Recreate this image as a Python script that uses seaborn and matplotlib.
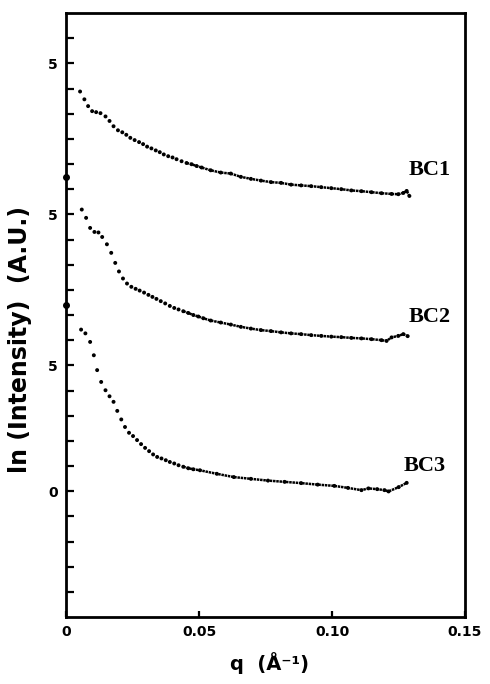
import numpy as np
import pandas as pd
import matplotlib
matplotlib.use("Agg")
import matplotlib.pyplot as plt
import seaborn as sns

# ---- data (q in 1/Angstrom, stacked ln intensity) ----
bc1_q = [0.00529, 0.00691, 0.00831, 0.00982, 0.01133, 0.01296, 0.01485, 0.01636, 0.01787,
         0.01953, 0.02116, 0.02267, 0.02418, 0.0258, 0.02747, 0.02898, 0.03049, 0.03211,
         0.03374, 0.03525, 0.03676, 0.03842, 0.04005, 0.04156, 0.04345, 0.04533, 0.04722,
         0.04911, 0.051, 0.0544, 0.05818, 0.06196, 0.06573, 0.06951, 0.07329, 0.07707,
         0.08085, 0.08462, 0.0884, 0.09218, 0.09596, 0.09974, 0.10351, 0.10729, 0.11107,
         0.11485, 0.11862, 0.1224, 0.12493, 0.12682, 0.12807, 0.12909]
bc1_y = [15.88, 15.57, 15.30, 15.10, 15.06, 15.02, 14.89, 14.71, 14.50,
         14.34, 14.26, 14.16, 14.04, 13.95, 13.87, 13.79, 13.69, 13.62,
         13.54, 13.47, 13.38, 13.31, 13.26, 13.19, 13.11, 13.04, 12.99,
         12.92, 12.86, 12.75, 12.66, 12.62, 12.49, 12.41, 12.34, 12.28,
         12.25, 12.18, 12.15, 12.12, 12.08, 12.04, 12.00, 11.95, 11.92,
         11.88, 11.84, 11.81, 11.80, 11.85, 11.93, 11.73]

bc2_q = [0.00593, 0.00756, 0.00907, 0.01069, 0.0122, 0.0136, 0.01538, 0.017, 0.01851,
         0.01991, 0.02142, 0.02293, 0.02456, 0.02618, 0.02769, 0.02935, 0.03098, 0.03249,
         0.034, 0.03562, 0.03729, 0.03903, 0.04069, 0.04231, 0.04409, 0.04598, 0.04787,
         0.04975, 0.05164, 0.0544, 0.05818, 0.06196, 0.06573, 0.06951, 0.07329, 0.07707,
         0.08085, 0.08462, 0.0884, 0.09218, 0.09596, 0.09974, 0.10351, 0.10729, 0.11107,
         0.11485, 0.11862, 0.12051, 0.1224, 0.12493, 0.12682, 0.12845]
bc2_y = [11.19, 10.86, 10.46, 10.30, 10.28, 10.10, 9.81, 9.47, 9.07,
         8.73, 8.45, 8.25, 8.12, 8.04, 7.97, 7.89, 7.80, 7.72,
         7.64, 7.55, 7.46, 7.36, 7.28, 7.22, 7.15, 7.08, 7.00,
         6.94, 6.87, 6.78, 6.70, 6.62, 6.53, 6.46, 6.40, 6.36,
         6.31, 6.27, 6.24, 6.20, 6.17, 6.14, 6.12, 6.09, 6.07,
         6.04, 6.00, 5.97, 6.11, 6.17, 6.24, 6.16]

bc3_q = [0.00567, 0.00729, 0.00907, 0.01046, 0.01171, 0.01322, 0.01485, 0.01636, 0.01787,
         0.01927, 0.02078, 0.02218, 0.02369, 0.0252, 0.02671, 0.02822, 0.02973, 0.03124,
         0.03275, 0.03427, 0.03589, 0.03751, 0.03903, 0.04069, 0.04231, 0.04409, 0.04598,
         0.04787, 0.05036, 0.05670, 0.06309, 0.06950, 0.07594, 0.08220, 0.0884, 0.09460,
         0.10087, 0.10600, 0.11107, 0.11371, 0.11700, 0.11976, 0.12127, 0.12505, 0.12807]
bc3_y = [6.42, 6.27, 5.93, 5.40, 4.81, 4.34, 4.01, 3.77, 3.55,
         3.19, 2.85, 2.55, 2.32, 2.19, 2.03, 1.87, 1.72, 1.59,
         1.46, 1.36, 1.30, 1.23, 1.16, 1.10, 1.03, 0.97, 0.91,
         0.87, 0.83, 0.69, 0.56, 0.49, 0.42, 0.37, 0.32, 0.26,
         0.21, 0.13, 0.04, 0.11, 0.08, 0.04, -0.01, 0.16, 0.33]

series_names = ["BC1", "BC2", "BC3"]
label_q = [0.1288, 0.1288, 0.1269]
label_y = [12.75, 6.91, 0.99]

ytick_values = list(range(-4, 19))
ytick_text = {0: "0", 5: "5", 11: "5", 17: "5"}
xtick_values = [0, 0.05, 0.10, 0.15]
xtick_text = ["0", "0.05", "0.10", "0.15"]
spine_dot_y = [12.47, 7.39]

# ---- build table ----
frames = []
for name, q, y in zip(series_names, [bc1_q, bc2_q, bc3_q], [bc1_y, bc2_y, bc3_y]):
    frames.append(pd.DataFrame({"q": q, "y": y, "sample": name}))
df = pd.concat(frames, ignore_index=True)

sns.set_style("white")
plt.rcParams["font.family"] = ["DejaVu Sans"]
for key in ["text.color", "axes.labelcolor", "xtick.color", "ytick.color"]:
    plt.rcParams[key] = "black"

fig = plt.figure(figsize=(4.9, 6.84), dpi=100)
ax = fig.add_axes([66 / 490, 67 / 684, 399 / 490, 604 / 684])

pal = {n: "black" for n in series_names}
sns.scatterplot(data=df, x="q", y="y", hue="sample", palette=pal, s=8,
                linewidth=0, legend=False, ax=ax)
dense = df[df["q"] >= 0.044]
sns.lineplot(data=dense, x="q", y="y", hue="sample", units="sample", estimator=None,
             palette=pal, sort=False, linewidth=1.8, legend=False, ax=ax,
             linestyle=(0, (1, 0.3)))

ax.set_xlim(0, 0.15)
ax.set_ylim(-5, 19)

ax.set_yticks(ytick_values)
ax.set_yticklabels([ytick_text.get(v, "") for v in ytick_values],
                   fontsize=10, fontweight="bold")
ax.set_xticks(xtick_values)
ax.set_xticklabels(xtick_text, fontsize=10, fontweight="bold")
ax.tick_params(axis="y", direction="in", length=6, width=1.6, pad=6, left=True)
ax.tick_params(axis="x", direction="in", length=4, width=1.6, pad=6, bottom=True)

for sp in ax.spines.values():
    sp.set_visible(True)
    sp.set_color("black")
    sp.set_linewidth(2.0)

ax.plot([0] * len(spine_dot_y), spine_dot_y, "o", color="black", markersize=4,
        clip_on=False)

for name, lq, ly in zip(series_names, label_q, label_y):
    ax.text(lq, ly, name, fontsize=16, fontweight="bold", family="Liberation Serif",
            ha="left", va="center")

ax.set_xlabel("q  (Å⁻¹)", fontsize=14, fontweight="bold")
ax.xaxis.set_label_coords(0.51, -0.058)
ax.set_ylabel("ln (Intensity)  (A.U.)", fontsize=17, fontweight="bold")
ax.yaxis.set_label_coords(-0.085, 0.46)

fig.savefig("out.png", dpi=100)
